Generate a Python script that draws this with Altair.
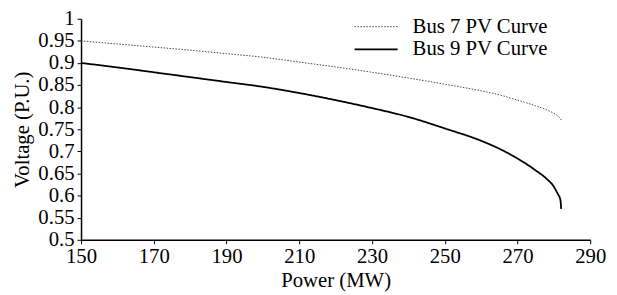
import altair as alt
import pandas as pd

bus7_power = [150, 160, 170, 180, 190, 200, 210, 220, 230, 240, 250, 260, 265, 270, 275, 278, 280, 281.5, 282.3]
bus7_voltage = [0.950, 0.943, 0.936, 0.929, 0.921, 0.913, 0.902, 0.891, 0.879, 0.866, 0.852, 0.837, 0.828, 0.816, 0.803, 0.794, 0.786, 0.777, 0.768]

bus9_power = [150, 160, 170, 180, 190, 200, 210, 220, 230, 240, 250, 260, 265, 270, 275, 278, 280, 281, 281.8, 282]
bus9_voltage = [0.900, 0.890, 0.879, 0.868, 0.857, 0.846, 0.832, 0.816, 0.798, 0.778, 0.752, 0.724, 0.706, 0.684, 0.657, 0.638, 0.620, 0.605, 0.590, 0.570]

series = ["Bus 7 PV Curve", "Bus 9 PV Curve"]
x_ticks = [150, 170, 190, 210, 230, 250, 270, 290]
y_ticks = [0.5, 0.55, 0.6, 0.65, 0.7, 0.75, 0.8, 0.85, 0.9, 0.95, 1.0]

rows = []
for i, (p, v) in enumerate(zip(bus7_power, bus7_voltage)):
    rows.append({"series": series[0], "power": p, "voltage": v, "order": i})
for i, (p, v) in enumerate(zip(bus9_power, bus9_voltage)):
    rows.append({"series": series[1], "power": p, "voltage": v, "order": i})
df = pd.DataFrame(rows)

FONT = "Liberation Serif"

chart = alt.Chart(df).mark_line(interpolate="monotone").encode(
    x=alt.X("power:Q", scale=alt.Scale(domain=[150, 290], nice=False, zero=False),
            axis=alt.Axis(values=x_ticks, title="Power (MW)", grid=False, format="d")),
    y=alt.Y("voltage:Q", scale=alt.Scale(domain=[0.5, 1.0], nice=False, zero=False),
            axis=alt.Axis(values=y_ticks, title="Voltage (P.U.)", grid=False, format="~g")),
    detail="series:N",
    order="order:Q",
    color=alt.Color("series:N", scale=alt.Scale(domain=series, range=["#333333", "#000000"]),
                    legend=alt.Legend(title=None, orient="none", legendX=276, legendY=-3,
                                      symbolType="stroke", symbolSize=1900, symbolStrokeWidth=1.5,
                                      clipHeight=22, symbolOpacity=1,
                                      labelFont=FONT, labelFontSize=21, labelColor="black",
                                      rowPadding=1, labelOffset=14)),
    strokeDash=alt.StrokeDash("series:N", scale=alt.Scale(domain=series, range=[[1.5, 1.5], [1, 0]]), legend=None),
    strokeWidth=alt.StrokeWidth("series:N", scale=alt.Scale(domain=series, range=[0.9, 1.8]), legend=None),
).properties(
    width=516, height=224,
    autosize=alt.AutoSizeParams(type="none"),
    padding={"left": 74, "top": 9, "right": 19, "bottom": 54},
).configure_view(stroke=None).configure_axis(
    labelFont=FONT, titleFont=FONT, labelFontSize=21, titleFontSize=21,
    labelColor="black", titleColor="black", titleFontWeight="normal",
    domainColor="black", tickColor="black", tickSize=4, domainWidth=1.5,
    labelPadding=2, labelFlush=False, labelOverlap=False,
).configure_axisY(titlePadding=5, labelPadding=3).configure_axisX(titlePadding=3)

chart.save("out.html", embed_options={"renderer": "svg", "actions": False})
